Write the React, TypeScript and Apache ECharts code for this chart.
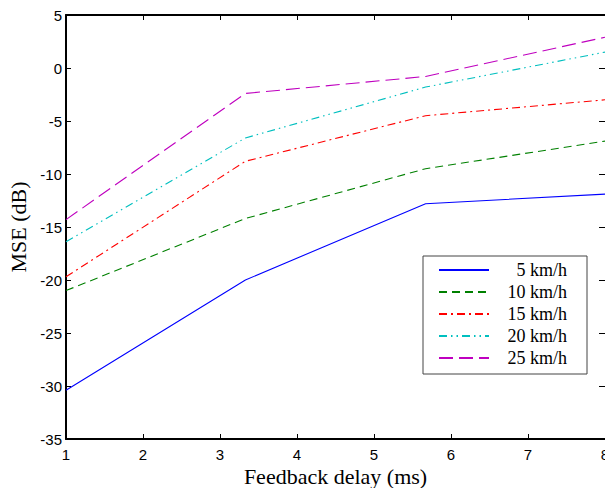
import React, { useEffect, useRef } from "react";
import * as echarts from "echarts";

const delays = [1, 3.33, 5.67, 8];
const speeds = ["5 km/h", "10 km/h", "15 km/h", "20 km/h", "25 km/h"];
const mse5 = [-30.4, -20.0, -12.8, -11.9];
const mse10 = [-21.0, -14.2, -9.5, -6.9];
const mse15 = [-19.7, -8.8, -4.5, -3.0];
const mse20 = [-16.4, -6.6, -1.8, 1.5];
const mse25 = [-14.3, -2.4, -0.8, 2.9];
const allSeries = [mse5, mse10, mse15, mse20, mse25];

const colors = ["#0000ff", "#008000", "#ff0000", "#00bfbf", "#bf00bf"];
const dashes: any[] = ["solid", [8, 5], [8, 4, 2, 4], [8, 4, 1.5, 4, 1.5, 4], [14, 6]];

export default function App() {
  const ref = useRef<HTMLDivElement>(null);
  useEffect(() => {
    if (!ref.current) return;
    const chart = echarts.init(ref.current, undefined, { renderer: "svg" });
    const sansFont = "Liberation Sans";
    const serifFont = "Liberation Serif";
    const axisCommon = {
      axisLine: { show: true, onZero: false, lineStyle: { color: "#000", width: 2 } },
      axisTick: { show: true, inside: true, length: 5, lineStyle: { color: "#000", width: 1 } },
      splitLine: { show: false },
    };
    chart.setOption({
      animation: false,
      backgroundColor: "#fff",
      grid: { left: 66, right: 0, top: 15, bottom: 49, containLabel: false, outerBoundsMode: "none" },
      xAxis: [
        {
          type: "value",
          min: 1,
          max: 8,
          interval: 1,
          position: "bottom",
          ...axisCommon,
          axisLabel: { color: "#000", fontSize: 15, fontFamily: sansFont, margin: 8 },
          name: "Feedback delay (ms)",
          nameLocation: "middle",
          nameGap: 25,
          nameMoveOverlap: false,
          nameTextStyle: { color: "#000", fontSize: 22, lineHeight: 24, fontFamily: serifFont },
        },
        {
          type: "value",
          min: 1,
          max: 8,
          interval: 1,
          position: "top",
          ...axisCommon,
          axisLabel: { show: false },
        },
      ],
      yAxis: [
        {
          type: "value",
          min: -35,
          max: 5,
          interval: 5,
          position: "left",
          ...axisCommon,
          axisLabel: { color: "#000", fontSize: 15, fontFamily: sansFont, margin: 4 },
          name: "MSE (dB)",
          nameLocation: "middle",
          nameGap: 37,
          nameMoveOverlap: false,
          nameTextStyle: { color: "#000", fontSize: 22, fontFamily: serifFont },
        },
        {
          type: "value",
          min: -35,
          max: 5,
          interval: 5,
          position: "right",
          ...axisCommon,
          axisLine: { show: false },
          axisTick: { show: true, inside: true, length: 6, lineStyle: { color: "#000", width: 1 } },
          axisLabel: { show: false },
        },
      ],
      legend: {
        orient: "vertical",
        left: 423,
        top: 256,
        padding: [5, 20, 7, 15],
        itemWidth: 50,
        itemHeight: 14,
        itemGap: 4,
        backgroundColor: "#fff",
        borderColor: "#444",
        borderWidth: 1,
        borderRadius: 0,
        itemStyle: { opacity: 0 },
        data: speeds,
        formatter: (name: string) => "{a|" + name + "}",
        textStyle: {
          color: "#000",
          fontSize: 18,
          fontFamily: serifFont,
          rich: {
            a: { width: 73, align: "right", fontSize: 18, lineHeight: 18, fontFamily: serifFont, color: "#000" },
          },
        },
      },
      series: allSeries.map((vals, i) => ({
        name: speeds[i],
        type: "line",
        xAxisIndex: 0,
        yAxisIndex: 0,
        symbol: "none",
        showSymbol: false,
        color: colors[i],
        lineStyle: { color: colors[i], width: 1.1, type: dashes[i] },
        data: delays.map((d, j) => [d, vals[j]]),
      })),
    });
    return () => chart.dispose();
  }, []);
  return (
    <div
      ref={ref}
      style={{ position: "absolute", left: 0, top: 0, width: 605, height: 488 }}
    />
  );
}
